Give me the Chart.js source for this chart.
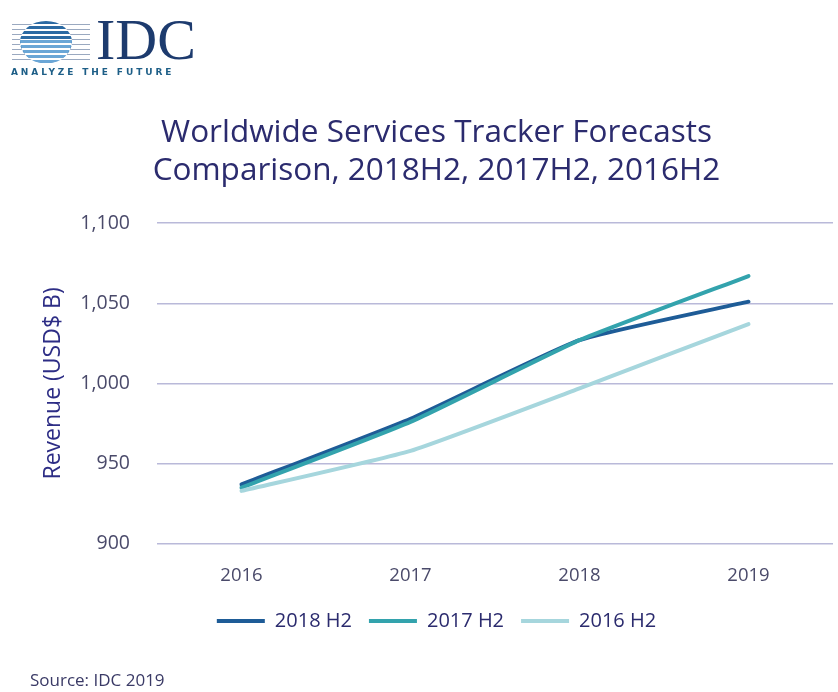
<!DOCTYPE html>
<html><head><meta charset="utf-8">
<script src="https://cdn.jsdelivr.net/npm/chart.js@4.4.1/dist/chart.umd.min.js"></script>
<style>
html,body{margin:0;padding:0;background:#fff;}
#wrap{position:relative;width:838px;height:692px;}
#logo{position:absolute;left:10px;top:16px;width:200px;height:70px;}
.globe{position:absolute;left:10px;top:5px;width:52px;height:42px;border-radius:50%;overflow:hidden;
 background:repeating-linear-gradient(to bottom,#2b6aa3 0 3px,#fff 3px 5px);}
.globe2{position:absolute;left:10px;top:24px;width:52px;height:23px;border-radius:0 0 26px 26px;overflow:hidden;
 background:repeating-linear-gradient(to bottom,#6aa6d6 0 3px,#fff 3px 5px);}
.stripes{position:absolute;left:2px;top:8px;width:78px;height:36px;
 background:repeating-linear-gradient(to bottom,#9aa9c0 0 1px,transparent 1px 5px);}
.idc{position:absolute;left:86px;top:-10px;font-family:"Liberation Serif",serif;font-size:58px;color:#1d3b6e;}
.tag{position:absolute;left:1px;top:51px;font-family:"DejaVu Sans",sans-serif;font-size:9px;letter-spacing:2.9px;color:#1d5e87;font-weight:bold;}
#src{position:absolute;left:30px;top:668px;font-family:"Open Sans",sans-serif;font-size:17px;color:#3a3a66;}
</style></head>
<body><div id="wrap">
<canvas id="c" width="838" height="692"></canvas>
<div id="logo"><div class="stripes"></div><div class="globe"></div><div class="globe2"></div><div class="idc">IDC</div><div class="tag">ANALYZE THE FUTURE</div></div>
<div id="src">Source: IDC 2019</div>
</div>
<script>
const categories = ["2016","2017","2018","2019"];
const series2018H2 = [937, 978, 1027, 1051];
const series2017H2 = [935, 976, 1027, 1067];
const series2016H2 = [933, 958, 997, 1037];
const seriesNames = ["2018 H2","2017 H2","2016 H2"];
const yTicks = [900, 950, 1000, 1050, 1100];

const colors = ["#1e5c97","#33a3ad","#a6d6dd"];
const navy = "#2b2b6e";
const tickColor = "#4a4a6a";

new Chart(document.getElementById('c'), {
  type: 'line',
  data: {
    labels: categories,
    datasets: [series2018H2, series2017H2, series2016H2].map((d,i)=>({
      label: seriesNames[i], data: d, borderColor: colors[i], backgroundColor: colors[i],
      borderWidth: 4, pointRadius: 0, tension: 0.15, borderCapStyle: 'round'
    })).reverse()
  },
  options: {
    responsive: false, animation: false,
    layout: { padding: { left: 40, right: 5, top: 114, bottom: 51 } },
    plugins: {
      title: { display: true, text: ["Worldwide Services Tracker Forecasts","Comparison, 2018H2, 2017H2, 2016H2"],
        color: navy, font: { family: "'Open Sans'", size: 31.5, weight: 'normal' }, padding: { top: 0, bottom: 33.5 }, lineHeight: 1.45 },
      legend: { position: 'bottom', reverse: true,
        labels: { usePointStyle: true, pointStyle: 'line', pointStyleWidth: 48, boxHeight: 4, color: navy,
          font: { family: "'Open Sans'", size: 20 }, padding: 17 } },
      tooltip: { enabled: false }
    },
    scales: {
      x: { offset: true, grid: { display: false }, border: { display: false },
        afterFit: ax => { ax.height -= 6; },
        ticks: { color: tickColor, font: { family: "'Open Sans'", size: 18.5 }, padding: 13 } },
      y: { min: 900, max: 1100, afterBuildTicks: ax => { ax.ticks = yTicks.map(v=>({value:v})); },
        afterFit: ax => { ax.width = 117; },
        grid: { color: "#b9b9d9", lineWidth: 1.5, drawTicks: false }, border: { display: false },
        ticks: { color: tickColor, font: { family: "'Open Sans'", size: 19.5 }, padding: 27,
          callback: v => v.toLocaleString('en-US') },
        title: { display: true, text: "Revenue (USD$ B)", color: "#2d2d85", font: { family: "'Open Sans'", size: 23 }, padding: 0 } }
    }
  }
});
</script>
</body></html>
